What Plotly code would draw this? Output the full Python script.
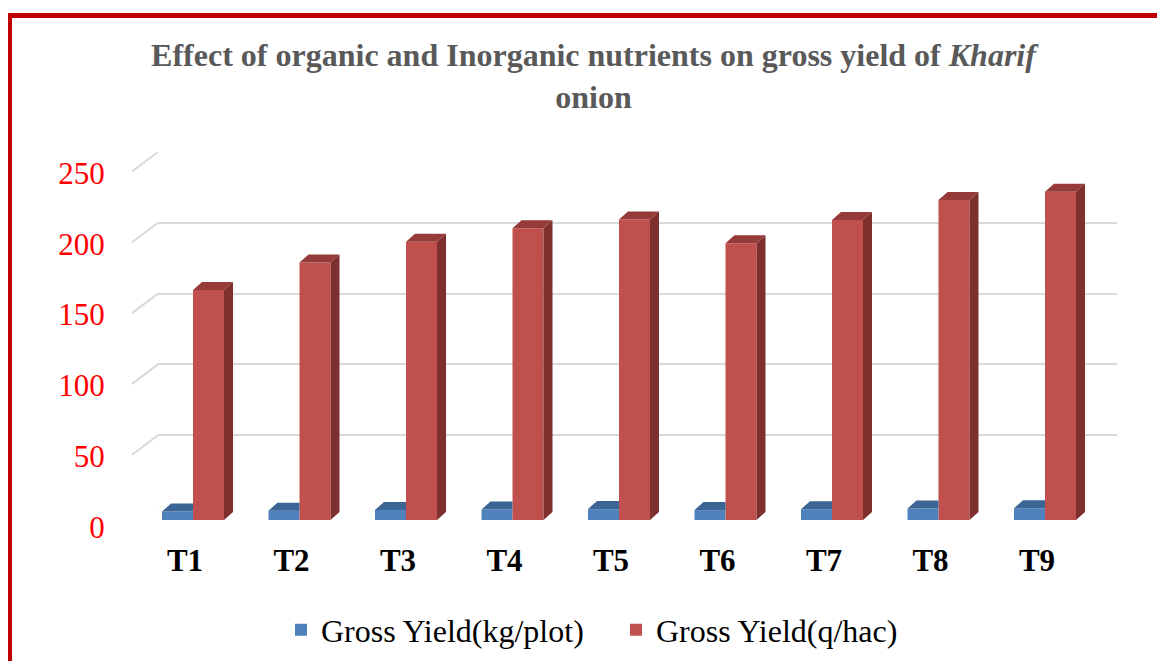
import plotly.graph_objects as go

# ---------------- data ----------------
treatments = ["T1", "T2", "T3", "T4", "T5", "T6", "T7", "T8", "T9"]
yield_kg_plot = [6.0, 6.6, 7.1, 7.4, 7.7, 7.0, 7.6, 8.1, 8.3]
yield_q_hac = [162.4, 181.8, 196.5, 206.0, 212.3, 195.4, 211.9, 226.0, 231.9]
y_ticks = [0, 50, 100, 150, 200, 250]
series_names = ["Gross Yield(kg/plot)", "Gross Yield(q/hac)"]

# ---------------- geometry / style ----------------
W, H = 1165, 661
PAGE_OFF = 8                       # page body margin compensation (px)
FONT = "Liberation Serif"
BLUE, BLUE_TOP = "#4F81BD", "#3B6594"
RED, RED_TOP, RED_SIDE = "#C0504D", "#963B39", "#7D302E"
GRID = "#D9D9D9"

PX_PER_UNIT = 354 / 250.0          # vertical pixels per value unit
PX_PER_CAT = 106.5                 # horizontal pixels per category
BAR_W = 31 / PX_PER_CAT            # bar width in category units
DX = 9 / PX_PER_CAT                # 3-D depth, horizontal (category units)
DY = 8 / PX_PER_UNIT               # 3-D depth, vertical (value units)


def py(px):  # screen pixel y -> paper y
    return 1 - (px - PAGE_OFF) / H


def pxx(px):  # screen pixel x -> paper x
    return (px - PAGE_OFF) / W


xs = list(range(len(treatments)))

fig = go.Figure()

# invisible trace on back-wall subplot so it is created first
fig.add_trace(go.Scatter(x=[0], y=[0], mode="markers", marker=dict(opacity=0),
                         showlegend=False, hoverinfo="skip", xaxis="x", yaxis="y"))

# front faces (bars)
fig.add_trace(go.Bar(x=xs, y=yield_kg_plot, width=BAR_W, offset=-BAR_W,
                     marker=dict(color=BLUE, line=dict(width=0)),
                     name=series_names[0], xaxis="x2", yaxis="y2"))
fig.add_trace(go.Bar(x=xs, y=yield_q_hac, width=BAR_W, offset=0,
                     marker=dict(color=RED, line=dict(width=0)),
                     name=series_names[1], xaxis="x2", yaxis="y2"))

# 3-D faces computed from the data
bt_x, bt_y = [], []
for x, v in zip(xs, yield_kg_plot):
    x0, x1 = x - BAR_W, x
    bt_x += [x0, x1, x1, x0 + DX, x0, None]
    bt_y += [v, v, v + DY, v + DY, v, None]
rt_x, rt_y, rs_x, rs_y = [], [], [], []
for x, v in zip(xs, yield_q_hac):
    x0, x1 = x, x + BAR_W
    rt_x += [x0, x1, x1 + DX, x0 + DX, x0, None]
    rt_y += [v, v, v + DY, v + DY, v, None]
    rs_x += [x1, x1 + DX, x1 + DX, x1, x1, None]
    rs_y += [0, DY, v + DY, v, 0, None]

for fx, fy, col in [(bt_x, bt_y, BLUE_TOP), (rt_x, rt_y, RED_TOP), (rs_x, rs_y, RED_SIDE)]:
    fig.add_trace(go.Scatter(x=fx, y=fy, mode="lines", fill="toself", fillcolor=col,
                             line=dict(width=0, color=col), showlegend=False,
                             hoverinfo="skip", xaxis="x2", yaxis="y2"))

# back wall gridlines (left diagonals)
shapes = []
FRONT_DY_UNITS = 19.5 / PX_PER_UNIT
for t in y_ticks:
    shapes.append(dict(type="line", xref="paper", yref="y", x0=pxx(132), x1=pxx(158),
                       y0=t - FRONT_DY_UNITS, y1=t, line=dict(color=GRID, width=2)))
# red frame
shapes.append(dict(type="rect", xref="paper", yref="paper", x0=pxx(9.5), x1=1.05,
                   y0=-0.05, y1=py(15.5), line=dict(color="#C00000", width=5)))

fig.update_layout(
    width=W, height=H,
    margin=dict(l=0, r=0, t=0, b=0, pad=0, autoexpand=False),
    paper_bgcolor="white", plot_bgcolor="rgba(0,0,0,0)",
    barmode="overlay",
    showlegend=True,
    title=dict(text="<b>Effect of organic and Inorganic nutrients on gross yield of <i>Kharif</i><br>onion</b>",
               font=dict(family=FONT, size=32, color="#595959"),
               x=pxx(593.5), xanchor="center", xref="paper",
               y=py(66), yanchor="top", yref="paper", automargin=False),
    xaxis=dict(domain=[pxx(158), pxx(1117)], range=[0, 1], showgrid=False,
               showticklabels=False, zeroline=False, showline=False, automargin=False),
    yaxis=dict(domain=[py(506), py(152)], range=[0, 250], tickvals=y_ticks,
               showgrid=True, gridcolor=GRID, gridwidth=2, showticklabels=False,
               zeroline=False, showline=False, automargin=False),
    xaxis2=dict(domain=[pxx(193 - PX_PER_CAT / 2), pxx(1045 + PX_PER_CAT / 2)],
                range=[-0.5, 8.5], anchor="y2", tickvals=xs, ticktext=treatments,
                showgrid=False, zeroline=False, showline=False, automargin=False,
                tickfont=dict(family=FONT, size=31, color="black", weight="bold"),
                ticklabelshift=-8, ticklabelstandoff=19),
    yaxis2=dict(domain=[py(520), py(520 - 250 * PX_PER_UNIT)], range=[0, 250],
                anchor="x2", tickvals=y_ticks, showgrid=False, zeroline=False,
                showline=False, automargin=False,
                tickfont=dict(family=FONT, size=31, color="#FF0000"),
                ticklabelshift=7, ticklabelstandoff=34),
    legend=dict(orientation="h", x=pxx(616), xanchor="center", y=py(630),
                yanchor="middle", font=dict(family=FONT, size=32, color="black"),
                bgcolor="rgba(0,0,0,0)", itemwidth=30, entrywidth=290,
                entrywidthmode="pixels"),
    shapes=shapes,
)

fig.write_html("out.html")
